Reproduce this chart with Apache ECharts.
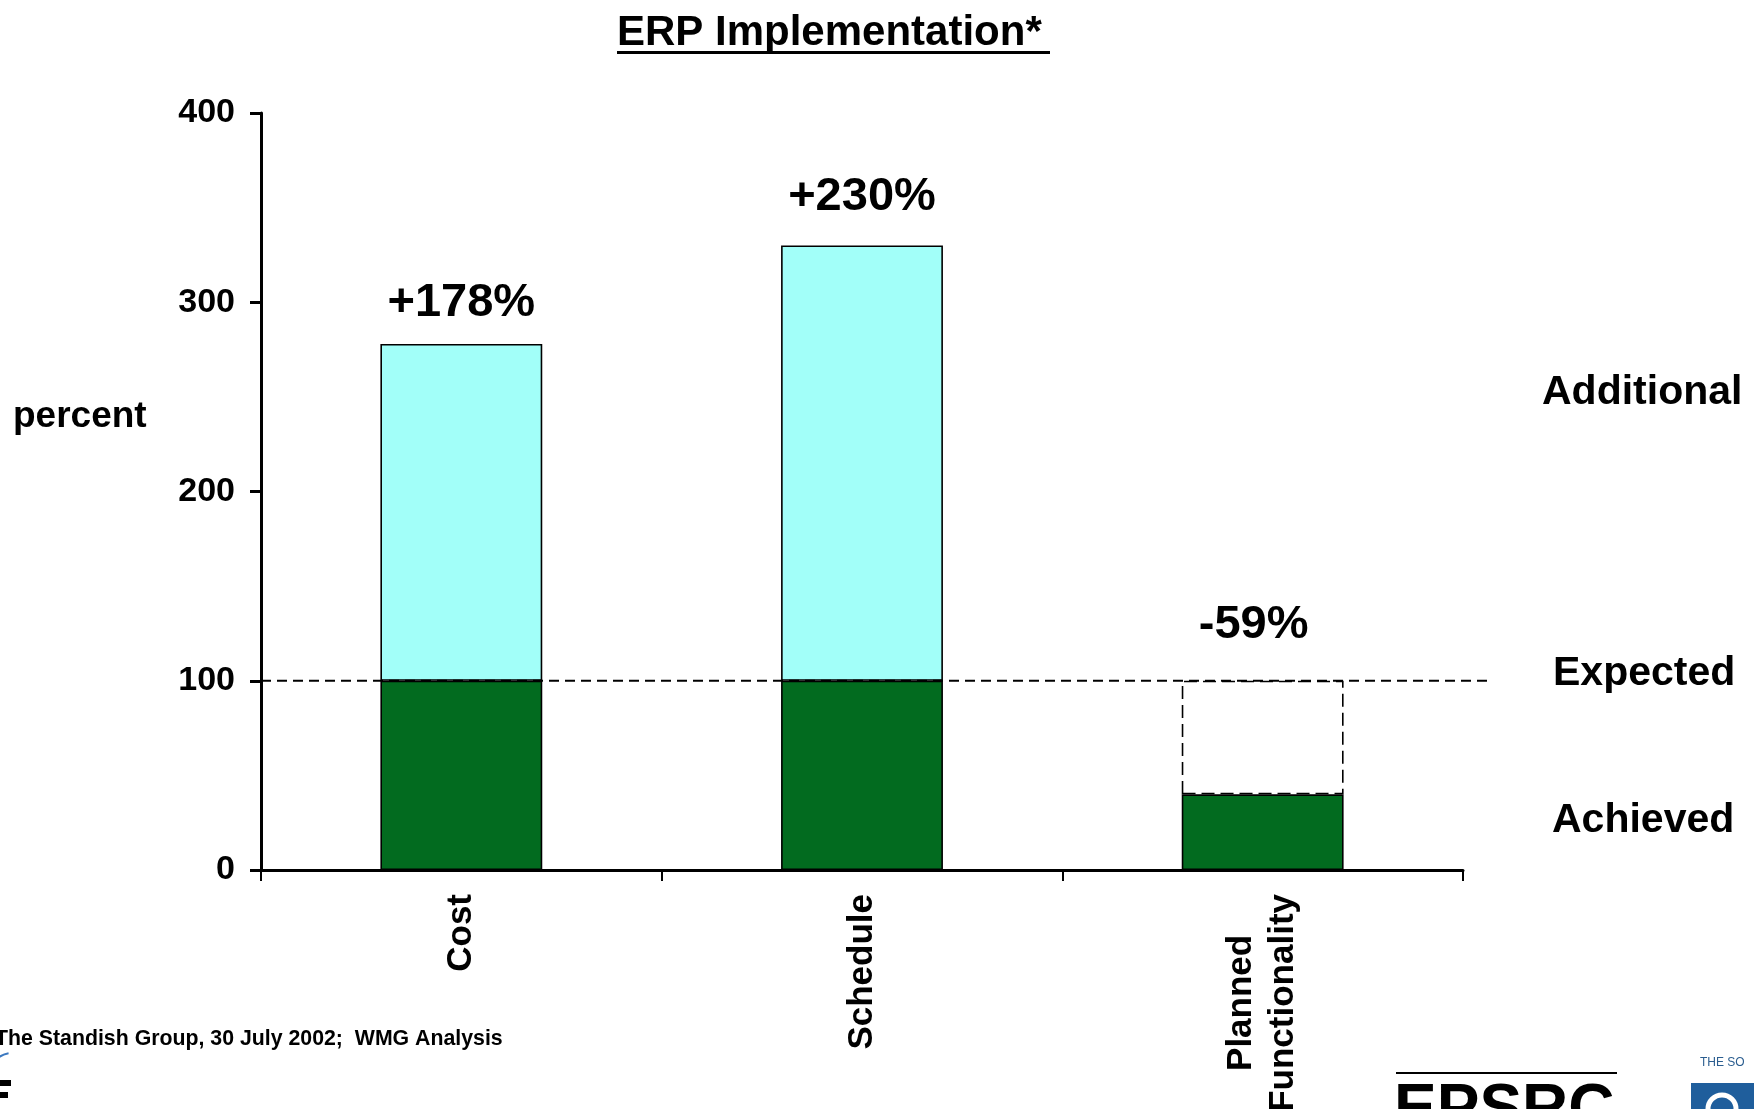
<!DOCTYPE html>
<html>
<head>
<meta charset="utf-8">
<script src="https://cdn.jsdelivr.net/npm/echarts@6/dist/echarts.min.js"></script>
<style>
html,body{margin:0;padding:0;background:#fff;}
#main{width:1754px;height:1109px;}
</style>
</head>
<body>
<div id="main"></div>
<script>
var categories = ['Cost', 'Schedule', 'Planned\nFunctionality'];
var achieved = [100, 100, 40];
var additional = [178, 230, 60];
var changeLabels = ['+178%', '+230%', '-59%'];
var labelGaps = [17, 25, 32];
var expectedLevel = 100;
var yTicks = [0, 100, 200, 300, 400];

var FONT = '"Liberation Sans", Arial, Helvetica, sans-serif';
var GREEN = '#026b1f';
var CYAN = '#a2fff9';

var chart = echarts.init(document.getElementById('main'), null, {renderer: 'canvas'});

var addData = additional.map(function (v, i) {
  var item = {
    value: v,
    label: {
      show: true,
      position: 'top',
      distance: labelGaps[i],
      formatter: changeLabels[i],
      fontSize: 47,
      fontWeight: 'bold',
      fontFamily: FONT,
      color: '#000'
    }
  };
  if (i === 2) {
    item.label.offset = [-9, 0];
    item.itemStyle = {
      color: 'rgba(255,255,255,0)',
      borderColor: '#000',
      borderWidth: 1.6,
      borderType: [13, 6]
    };
  }
  return item;
});

var option = {
  backgroundColor: '#fff',
  animation: false,
  grid: [
    {left: 261, right: 291, top: 113, bottom: 239, containLabel: false, outerBoundsMode: 'none'},
    {left: 261, right: 265, top: 113, bottom: 239, containLabel: false, outerBoundsMode: 'none'}
  ],
  xAxis: [
    {
      type: 'category',
      gridIndex: 0,
      data: categories,
      boundaryGap: true,
      axisLine: {show: true, lineStyle: {color: '#000', width: 3}},
      axisTick: {show: true, alignWithLabel: false, length: 11, inside: false, lineStyle: {color: '#000', width: 2}},
      axisLabel: {
        rotate: 90,
        margin: 24,
        interval: 0,
        formatter: function (v) {
          return v.split('\n').map(function (l) { return '{c|' + l + '}'; }).join('\n');
        },
        rich: {
          c: {fontSize: 35, fontWeight: 'bold', fontFamily: FONT, color: '#000', align: 'center', lineHeight: 42}
        }
      },
      splitLine: {show: false}
    },
    {
      type: 'value',
      gridIndex: 1,
      min: 0,
      max: 1,
      show: false
    }
  ],
  yAxis: [
    {
      type: 'value',
      gridIndex: 0,
      min: yTicks[0],
      max: yTicks[yTicks.length - 1],
      interval: 100,
      axisLine: {show: true, lineStyle: {color: '#000', width: 3}},
      axisTick: {show: true, length: 11, lineStyle: {color: '#000', width: 3}},
      axisLabel: {margin: 26, fontSize: 34, fontWeight: 'bold', fontFamily: FONT, color: '#000'},
      splitLine: {show: false}
    },
    {
      type: 'value',
      gridIndex: 1,
      min: yTicks[0],
      max: yTicks[yTicks.length - 1],
      show: false
    }
  ],
  series: [
    {
      name: 'Achieved',
      type: 'bar',
      stack: 'total',
      xAxisIndex: 0,
      yAxisIndex: 0,
      barWidth: '40.4%',
      data: achieved,
      itemStyle: {color: GREEN, borderColor: '#000', borderWidth: 1.6}
    },
    {
      name: 'Additional',
      type: 'bar',
      stack: 'total',
      xAxisIndex: 0,
      yAxisIndex: 0,
      barWidth: '40.4%',
      data: addData,
      itemStyle: {color: CYAN, borderColor: '#000', borderWidth: 1.6}
    },
    {
      name: 'Expected',
      type: 'line',
      xAxisIndex: 1,
      yAxisIndex: 1,
      data: [[0, expectedLevel], [1, expectedLevel]],
      symbol: 'none',
      silent: true,
      z: 5,
      lineStyle: {color: '#000', width: 2, type: [10, 6]}
    }
  ],
  graphic: [
    {type: 'text', left: 617, top: 12, style: {text: 'ERP Implementation*', font: 'bold 42px ' + FONT, fill: '#000'}},
    {type: 'rect', shape: {x: 617, y: 51, width: 433, height: 3}, style: {fill: '#000'}},
    {type: 'text', x: 13, y: 417, style: {text: 'percent', font: 'bold 37px ' + FONT, fill: '#000', verticalAlign: 'middle'}},
    {type: 'text', x: 1542, y: 393, style: {text: 'Additional', font: 'bold 41px ' + FONT, fill: '#000', verticalAlign: 'middle'}},
    {type: 'text', x: 1553, y: 674, style: {text: 'Expected', font: 'bold 41px ' + FONT, fill: '#000', verticalAlign: 'middle'}},
    {type: 'text', x: 1552, y: 821, style: {text: 'Achieved', font: 'bold 41px ' + FONT, fill: '#000', verticalAlign: 'middle'}},
    {type: 'text', x: -5, y: 1039, style: {text: 'The Standish Group, 30 July 2002;  WMG Analysis', font: 'bold 21.3px ' + FONT, fill: '#000', verticalAlign: 'middle'}},
    {type: 'rect', shape: {x: 1396, y: 1072, width: 221, height: 2}, style: {fill: '#000'}},
    {type: 'text', x: 1394, y: 1111, style: {text: 'EPSRC', font: 'bold 64px ' + FONT, fill: '#000', verticalAlign: 'middle'}},
    {type: 'text', x: 1700, y: 1063, style: {text: 'THE SO', font: '12px ' + FONT, fill: '#2a5d8f', verticalAlign: 'middle'}},
    {type: 'rect', shape: {x: 1691, y: 1083, width: 63, height: 26}, style: {fill: '#1f5e9c'}},
    {type: 'arc', shape: {cx: 1722, cy: 1109, r: 14, startAngle: Math.PI, endAngle: 2 * Math.PI}, style: {stroke: '#fff', lineWidth: 5, fill: null}},
    {type: 'arc', shape: {cx: 12, cy: 1075, r: 22, startAngle: Math.PI * 1.1, endAngle: Math.PI * 1.45}, style: {stroke: '#3b78c0', lineWidth: 2, fill: null}},
    {type: 'rect', shape: {x: 0, y: 1080, width: 11, height: 6}, style: {fill: '#000'}},
    {type: 'rect', shape: {x: 0, y: 1092, width: 8, height: 6}, style: {fill: '#000'}}
  ]
};

chart.setOption(option);
</script>
</body>
</html>
